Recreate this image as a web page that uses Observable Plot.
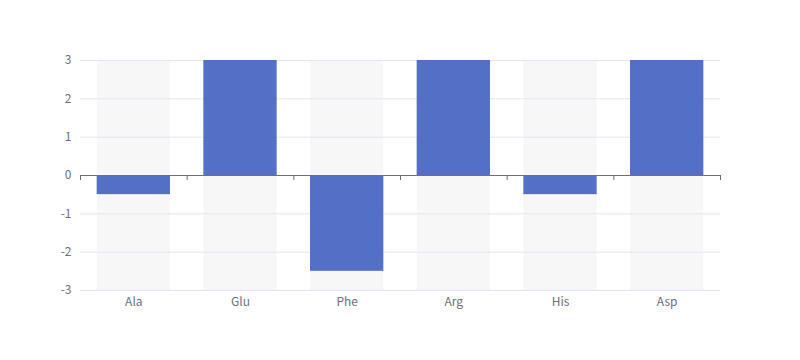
<!DOCTYPE html>
<html>
<head>
<meta charset="utf-8">
<script src="https://cdn.jsdelivr.net/npm/d3@7"></script>
<script src="https://cdn.jsdelivr.net/npm/@observablehq/plot@0.6"></script>
<style>
  html, body { margin: 0; padding: 0; background: #fff; }
  #chart { width: 800px; height: 360px; }
  svg { font-family: "Noto Sans CJK SC", "Noto Sans", sans-serif; }
</style>
</head>
<body>
<div id="chart"></div>
<script>
const categories = ["Ala", "Glu", "Phe", "Arg", "His", "Asp"];
const values = [-0.5, 3, -2.5, 3, -0.5, 3];
const yTicks = [-3, -2, -1, 0, 1, 2, 3];
const gridValues = [-3, -2, -1, 1, 2, 3];

const data = categories.map((c, i) => ({ c, i, v: values[i] }));
const boundaries = d3.range(categories.length + 1);

const axisColor = "#6E7079";
const gridColor = "#E0E6F1";
const barColor = "#5470C6";
const bgColor = "#F7F7F7";
const inset = 16.67;

const chart = Plot.plot({
  width: 800,
  height: 360,
  marginTop: 60,
  marginBottom: 70,
  marginLeft: 80,
  marginRight: 80,
  style: { fontSize: "12px", color: axisColor, background: "#fff" },
  x: { type: "linear", domain: [0, categories.length] },
  y: { domain: [-3, 3] },
  marks: [
    Plot.rectY(data, { x1: "i", x2: d => d.i + 1, y1: -3, y2: 3, fill: bgColor, insetLeft: inset, insetRight: inset }),
    Plot.ruleY(gridValues, { stroke: gridColor, strokeWidth: 1 }),
    Plot.rectY(data, { x1: "i", x2: d => d.i + 1, y1: 0, y2: "v", fill: barColor, insetLeft: inset, insetRight: inset }),
    Plot.ruleY([0], { stroke: axisColor, strokeWidth: 1 }),
    Plot.ruleX(boundaries, { y1: 0, y2: 0, insetBottom: -5, stroke: axisColor, strokeWidth: 1 }),
    Plot.axisY({ ticks: yTicks, tickSize: 0, tickPadding: 9, tickFormat: d => String(d), fill: axisColor, label: null }),
    Plot.axisX({ ticks: data.map(d => d.i + 0.5), tickSize: 0, tickPadding: 7, tickFormat: t => categories[Math.floor(t)], fill: axisColor, label: null })
  ]
});
document.getElementById("chart").appendChild(chart);
</script>
</body>
</html>
